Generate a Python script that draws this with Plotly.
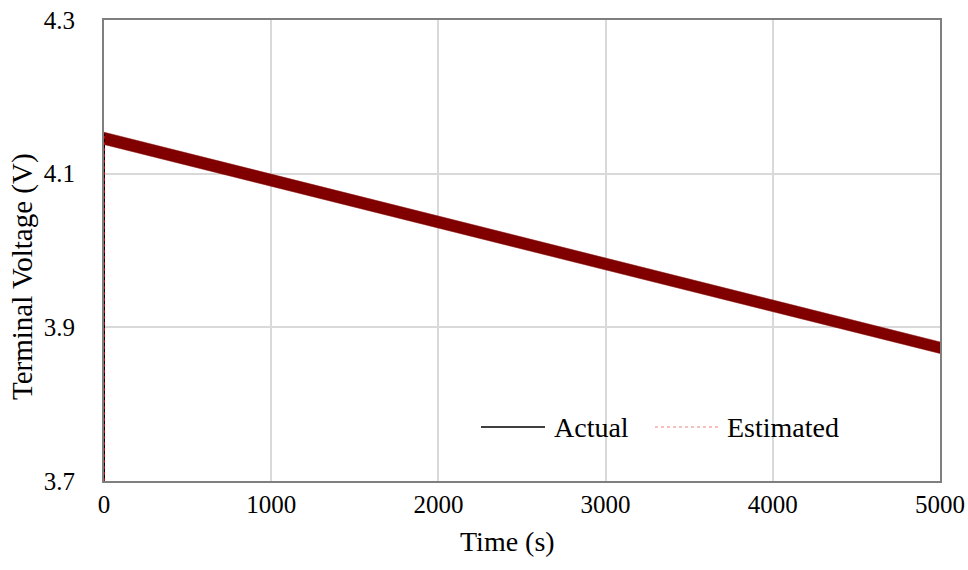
import plotly.graph_objects as go

# Data
time_env = [0, 5000]
v_upper = [4.154, 3.881]          # upper envelope of the dense pulsed signal
v_lower = [4.138, 3.866]          # lower envelope
time_rise = [0, 0]
v_rise = [3.70, 4.152]            # initial step at t = 0

x_ticks = [0, 1000, 2000, 3000, 4000, 5000]
y_ticks = [3.7, 3.9, 4.1, 4.3]

BAND = "#800000"
FONT = "Liberation Serif"

fig = go.Figure()

fig.add_trace(go.Scatter(x=time_env, y=v_lower, mode="lines",
                         line=dict(color=BAND, width=0.5), showlegend=False,
                         hoverinfo="skip"))
fig.add_trace(go.Scatter(x=time_env, y=v_upper, mode="lines", fill="tonexty",
                         fillcolor=BAND, line=dict(color=BAND, width=0.5),
                         showlegend=False, hoverinfo="skip"))
fig.add_trace(go.Scatter(x=time_rise, y=v_rise, mode="lines", name="Actual",
                         line=dict(color="black", width=2), showlegend=False))
fig.add_trace(go.Scatter(x=time_rise, y=v_rise, mode="lines", name="Estimated",
                         line=dict(color="#c00000", width=2, dash="dot"),
                         showlegend=False))

def px2x(p):
    return (p - 104) / 836

def py2y(p):
    return (481 - p) / 461

ly = py2y(427)
fig.add_shape(type="line", xref="paper", yref="paper", x0=px2x(481), x1=px2x(545),
              y0=ly, y1=ly, line=dict(color="black", width=1.3))
fig.add_shape(type="line", xref="paper", yref="paper", x0=px2x(655), x1=px2x(720),
              y0=ly, y1=ly, line=dict(color="#f08080", width=1, dash="dot"))
fig.add_annotation(xref="paper", yref="paper", x=px2x(552), y=ly, text="Actual",
                   showarrow=False, xanchor="left", yanchor="middle",
                   font=dict(family=FONT, size=28, color="black"))
fig.add_annotation(xref="paper", yref="paper", x=px2x(725), y=ly, text="Estimated",
                   showarrow=False, xanchor="left", yanchor="middle",
                   font=dict(family=FONT, size=28, color="black"))

# Axis titles
fig.add_annotation(xref="paper", yref="paper", x=px2x(507), y=py2y(541),
                   text="Time (s)", showarrow=False, xanchor="center", yanchor="middle",
                   font=dict(family=FONT, size=28, color="black"))
fig.add_annotation(xref="paper", yref="paper", x=px2x(22), y=py2y(277),
                   text="Terminal Voltage (V)", showarrow=False, textangle=-90,
                   xanchor="center", yanchor="middle",
                   font=dict(family=FONT, size=29, color="black"))

fig.update_layout(
    width=968, height=570,
    margin=dict(l=104, r=28, t=20, b=89),
    paper_bgcolor="white", plot_bgcolor="white",
    font=dict(family=FONT, size=24, color="black"),
    showlegend=False,
)
fig.update_xaxes(range=[0, 5000], tickvals=x_ticks, ticktext=[str(v) for v in x_ticks],
                 showgrid=True, gridcolor="#d9d9d9", gridwidth=1.5,
                 showline=True, linecolor="#7f7f7f", linewidth=2, mirror=True,
                 zeroline=False, ticks="", automargin=False,
                 tickfont=dict(family=FONT, size=25))
fig.update_yaxes(range=[3.7, 4.3], tickvals=y_ticks, ticktext=[f"{v:.1f}" for v in y_ticks],
                 showgrid=True, gridcolor="#d9d9d9", gridwidth=1.5,
                 showline=True, linecolor="#7f7f7f", linewidth=2, mirror=True,
                 zeroline=False, ticks="", ticklabelstandoff=22, automargin=False,
                 tickfont=dict(family=FONT, size=25))

fig.write_html("out.html")
